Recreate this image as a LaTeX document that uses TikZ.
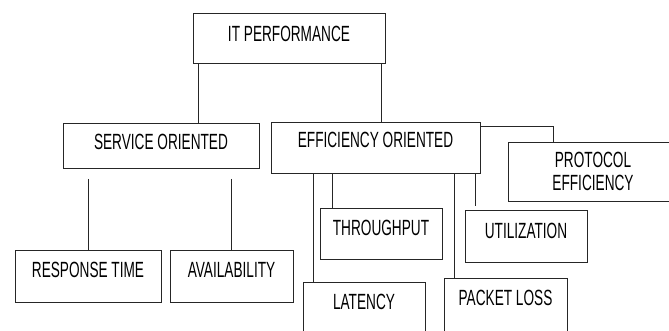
\documentclass[tikz,border=0pt]{standalone}
\usepackage{fontspec}
\newfontfamily\boxfont[FakeStretch=0.62]{Liberation Sans}
\tikzset{
	box/.style={draw=black!85, line width=0.9pt, anchor=north west, inner sep=0pt, outer sep=0pt,
		align=center, font=\boxfont\fontsize{22}{23}\selectfont},
	link/.style={draw=black!85, line width=0.7pt},
}
\begin{document}
\begin{tikzpicture}[x=1pt,y=-1pt]
		\useasboundingbox (0,0) rectangle (669,331);
		\node[box, minimum width=192pt, minimum height=50pt, text height=29pt, text depth=21pt] (it) at (193,13) {IT PERFORMANCE};
		\node[box, minimum width=196pt, minimum height=45pt, text height=27pt, text depth=18pt] (svc) at (63,123) {SERVICE ORIENTED};
		\node[box, minimum width=209pt, minimum height=51pt, text height=26pt, text depth=25pt] (eff) at (271,122) {EFFICIENCY ORIENTED};
		\node[box, minimum width=170pt, minimum height=59pt, text height=49pt, text depth=10pt] (proto) at (508,142) {PROTOCOL\\EFFICIENCY};
		\node[box, minimum width=122pt, minimum height=51pt, text height=27pt, text depth=24pt] (thru) at (320,208) {THROUGHPUT};
		\node[box, minimum width=122pt, minimum height=52pt, text height=28pt, text depth=24pt] (util) at (465,210) {UTILIZATION};
		\node[box, minimum width=146pt, minimum height=52pt, text height=27pt, text depth=25pt] (resp) at (15,250) {RESPONSE TIME};
		\node[box, minimum width=123pt, minimum height=52pt, text height=27pt, text depth=25pt] (avail) at (170,250) {AVAILABILITY};
		\node[box, minimum width=122pt, minimum height=60pt, text height=27pt, text depth=33pt] (lat) at (303,282) {LATENCY};
		\node[box, minimum width=123pt, minimum height=60pt, text height=27pt, text depth=33pt] (loss) at (444,278) {PACKET LOSS};
		\draw[link] ([xshift=37pt]svc.north) -- ([xshift=37pt]svc.north |- it.south);
		\draw[link] ([xshift=5.5pt]eff.north) -- ([xshift=5.5pt]eff.north |- it.south);
		\draw[link] ([yshift=-4pt]eff.north east) -| ([xshift=-40pt]proto.north);
		\draw[link] ([yshift=-11pt]svc.south -| resp.north) -- (resp.north);
		\draw[link] ([yshift=-11pt]svc.south -| avail.north) -- (avail.north);
		\draw[link] ([xshift=10pt]lat.north west) -- ([xshift=10pt]lat.north west |- eff.south);
		\draw[link] ([xshift=12pt]thru.north west) -- ([xshift=12pt]thru.north west |- eff.south);
		\draw[link] ([xshift=10pt]loss.north west) -- ([xshift=10pt]loss.north west |- eff.south);
		\draw[link] ([shift={(10pt,4pt)}]util.north west) -- ([xshift=10pt]util.north west |- eff.south);
	\end{tikzpicture}
\end{document}
